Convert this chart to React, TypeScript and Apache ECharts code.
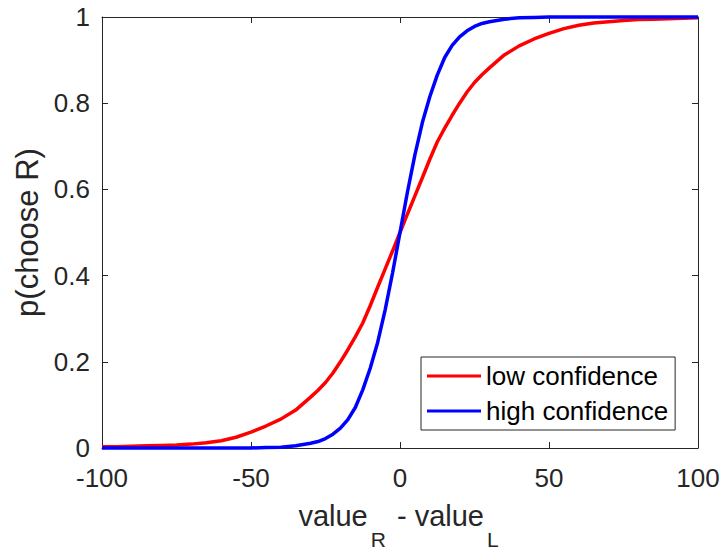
import React, { useEffect, useRef } from "react";
import * as echarts from "echarts";

// x = value_R - value_L
const xValues = [
  -100, -95, -90, -85, -80, -75, -70, -65, -60, -55, -50, -45, -40, -35,
  -30, -27.5, -25, -22.5, -20, -17.5, -15, -12.5, -10, -7.5, -5, -2.5, 0,
  2.5, 5, 7.5, 10, 12.5, 15, 17.5, 20, 22.5, 25, 27.5, 30,
  35, 40, 45, 50, 55, 60, 65, 70, 75, 80, 85, 90, 95, 100,
];

// p(choose R), low confidence (red)
const lowConfidence = [
  0.003, 0.003, 0.004, 0.005, 0.006, 0.007, 0.009, 0.012, 0.017, 0.025, 0.037, 0.051, 0.067, 0.088,
  0.118, 0.134, 0.152, 0.174, 0.2, 0.228, 0.258, 0.29, 0.33, 0.373, 0.415, 0.457, 0.5,
  0.543, 0.585, 0.627, 0.67, 0.71, 0.742, 0.772, 0.8, 0.826, 0.848, 0.866, 0.882,
  0.912, 0.933, 0.949, 0.962, 0.973, 0.981, 0.986, 0.989, 0.992, 0.994, 0.995, 0.996, 0.997, 0.998,
];

// p(choose R), high confidence (blue)
const highConfidence = [
  0, 0, 0, 0, 0, 0, 0, 0, 0, 0, 0, 0.001, 0.002, 0.005,
  0.011, 0.015, 0.022, 0.032, 0.046, 0.066, 0.094, 0.135, 0.185, 0.245, 0.32, 0.406, 0.5,
  0.594, 0.68, 0.755, 0.815, 0.865, 0.906, 0.934, 0.954, 0.968, 0.978, 0.985, 0.989,
  0.995, 0.998, 0.999, 1, 1, 1, 1, 1, 1, 1, 1, 1, 1, 1,
];

const seriesNames = ["low confidence", "high confidence"];
const seriesColors = ["#FF0000", "#0000FF"];

const FONT = "'Liberation Sans', Arial, Helvetica, sans-serif";
const INK = "#262626";

export default function App() {
  const ref = useRef<HTMLDivElement>(null);

  useEffect(() => {
    if (!ref.current) return;
    const chart = echarts.init(ref.current, undefined, { renderer: "svg" });

    const axisCommon = {
      type: "value" as const,
      axisLine: { show: true, onZero: false, lineStyle: { color: INK, width: 1 } },
      axisTick: { show: true, inside: true, length: 6, lineStyle: { color: INK, width: 1 } },
      splitLine: { show: false },
    };

    const makeData = (ys: number[]) => xValues.map((x, i) => [x, ys[i]]);

    chart.setOption({
      animation: false,
      backgroundColor: "#ffffff",
      grid: { left: 102, right: 26, top: 17, bottom: 102, containLabel: false, outerBoundsMode: "none" },
      xAxis: [
        {
          ...axisCommon,
          position: "bottom",
          min: -100,
          max: 100,
          interval: 50,
          axisLabel: {
            show: true,
            margin: 17,
            color: INK,
            fontSize: 26,
            fontFamily: FONT,
            showMinLabel: true,
            showMaxLabel: true,
          },
          name: "{a|value}{s|R}{a| - value}{s|L}",
          nameLocation: "middle",
          nameGap: 34,
          nameTextStyle: {
            color: INK,
            fontFamily: FONT,
            fontSize: 29,
            rich: {
              a: { fontSize: 29, color: INK, fontFamily: FONT },
              s: { fontSize: 21, color: INK, fontFamily: FONT, padding: [47, 3, 0, 3] },
            },
          },
        },
        {
          ...axisCommon,
          position: "top",
          min: -100,
          max: 100,
          interval: 50,
          axisLabel: { show: false },
        },
      ],
      yAxis: [
        {
          ...axisCommon,
          position: "left",
          min: 0,
          max: 1,
          interval: 0.2,
          axisLabel: {
            show: true,
            margin: 12,
            color: INK,
            fontSize: 26,
            fontFamily: FONT,
            showMinLabel: true,
            showMaxLabel: true,
          },
          name: "p(choose R)",
          nameLocation: "middle",
          nameGap: 55,
          nameTextStyle: { color: INK, fontFamily: FONT, fontSize: 31 },
        },
        {
          ...axisCommon,
          position: "right",
          min: 0,
          max: 1,
          interval: 0.2,
          axisLabel: { show: false },
        },
      ],
      legend: {
        orient: "vertical",
        left: 421,
        top: 357,
        padding: [6, 7, 6, 6],
        itemGap: 9,
        itemWidth: 54,
        itemHeight: 3,
        icon: "rect",
        backgroundColor: "#ffffff",
        borderColor: INK,
        borderWidth: 1,
        borderRadius: 0,
        textStyle: { color: "#000000", fontSize: 26, fontFamily: FONT },
        data: seriesNames,
      },
      series: [
        {
          name: seriesNames[0],
          type: "line",
          data: makeData(lowConfidence),
          showSymbol: false,
          symbol: "none",
          smooth: false,
          clip: false,
          lineStyle: { color: seriesColors[0], width: 3.5 },
          itemStyle: { color: seriesColors[0] },
          z: 2,
        },
        {
          name: seriesNames[1],
          type: "line",
          data: makeData(highConfidence),
          showSymbol: false,
          symbol: "none",
          smooth: false,
          clip: false,
          lineStyle: { color: seriesColors[1], width: 3.5 },
          itemStyle: { color: seriesColors[1] },
          z: 3,
        },
      ],
    });

    return () => chart.dispose();
  }, []);

  return (
    <div
      ref={ref}
      style={{ position: "fixed", left: 0, top: 0, width: 724, height: 550, background: "#fff" }}
    />
  );
}
